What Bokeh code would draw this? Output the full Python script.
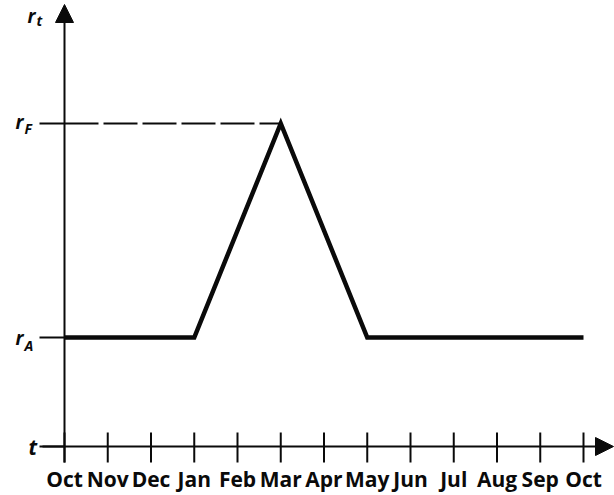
from bokeh.plotting import figure
from bokeh.models import Range1d, Arrow, NormalHead
from bokeh.core.properties import value
from bokeh.embed import file_html
from bokeh.resources import INLINE

# ---- data ----
months = ["Oct", "Nov", "Dec", "Jan", "Feb", "Mar", "Apr", "May",
          "Jun", "Jul", "Aug", "Sep", "Oct"]
month_index = list(range(len(months)))
r_A = 1.0          # symbolic rate level A
r_F = 2.0          # symbolic rate level F
knot_month = [0, 3, 5, 7, 12]          # Oct, Jan, Mar, May, Oct
knot_rate = [r_A, r_A, r_F, r_A, r_A]
peak_month = 5                          # Mar

# ---- layout (pixels) ----
W, H = 614, 495
PX = 43.25            # pixels per month
PY = 214.0            # pixels per rate unit
X0_PX = 64            # pixel column of the rate axis
RA_PY = 337           # pixel row of r_A

t_axis_level = r_A - 109.0 / PY        # where the time axis sits
tick_top = t_axis_level + 14.0 / PY
tick_bot = t_axis_level - 16.0 / PY
t_axis_start = -22.0 / PX
t_axis_tip = 549.0 / PX
r_axis_tip = r_A + 333.0 / PY
ytick_start = -25.0 / PX

FONT = "Open Sans"
INK = "#0a0a0a"

p = figure(width=W, height=H,
           x_range=Range1d(-X0_PX / PX, (W - X0_PX) / PX),
           y_range=Range1d(r_A - (H - RA_PY) / PY, r_A + RA_PY / PY),
           x_axis_type=None, y_axis_type=None,
           min_border=0, outline_line_color=None,
           background_fill_color="white", border_fill_color="white",
           output_backend="svg", toolbar_location=None)

# time axis with arrow
p.add_layout(Arrow(end=NormalHead(size=18, fill_color=INK, line_color=INK, line_width=1),
                   x_start=t_axis_start, y_start=t_axis_level,
                   x_end=t_axis_tip, y_end=t_axis_level,
                   line_width=2, line_color=INK))
# rate axis with arrow
p.add_layout(Arrow(end=NormalHead(size=18, fill_color=INK, line_color=INK, line_width=1),
                   x_start=0, y_start=tick_bot, x_end=0, y_end=r_axis_tip,
                   line_width=2, line_color=INK))

# month ticks
p.segment(x0=month_index, y0=[tick_bot] * len(month_index),
          x1=month_index, y1=[tick_top] * len(month_index),
          line_width=2, line_color=INK)
# rate ticks
levels = [t_axis_level, r_A, r_F]
p.segment(x0=[ytick_start] * 3, y0=levels, x1=[0] * 3, y1=levels,
          line_width=2, line_color=INK)

# month labels
p.text(x=month_index, y=[t_axis_level] * len(month_index), text=months,
       y_offset=32, text_align="center", text_baseline="alphabetic",
       text_font=value(FONT), text_font_style="bold", text_font_size="21px",
       text_color=INK)

# dashed reference to the peak
p.line([0, peak_month], [r_F, r_F], line_width=2, line_color=INK, line_dash="34 5")

# main rate curve
p.line(knot_month, knot_rate, line_width=4.5, line_color=INK, line_join="miter")

def lab(text, y, dx, dy, size):
    p.text(x=[0], y=[y], text=[text], x_offset=dx, y_offset=dy,
           text_font=value(FONT), text_font_style="bold italic",
           text_font_size=size, text_color=INK,
           text_align="left", text_baseline="alphabetic")

lab("r", r_F, -49, -2, "19px")
lab("F", r_F, -40, 5, "14px")
lab("r", r_A, -49, 0, "19px")
lab("A", r_A, -40, 8, "14px")
lab("t", t_axis_level, -36, 0, "21px")
lab("r", r_axis_tip, -37, 11, "19px")
lab("t", r_axis_tip, -28, 16, "14px")

open("out.html", "w").write(file_html(p, INLINE))
